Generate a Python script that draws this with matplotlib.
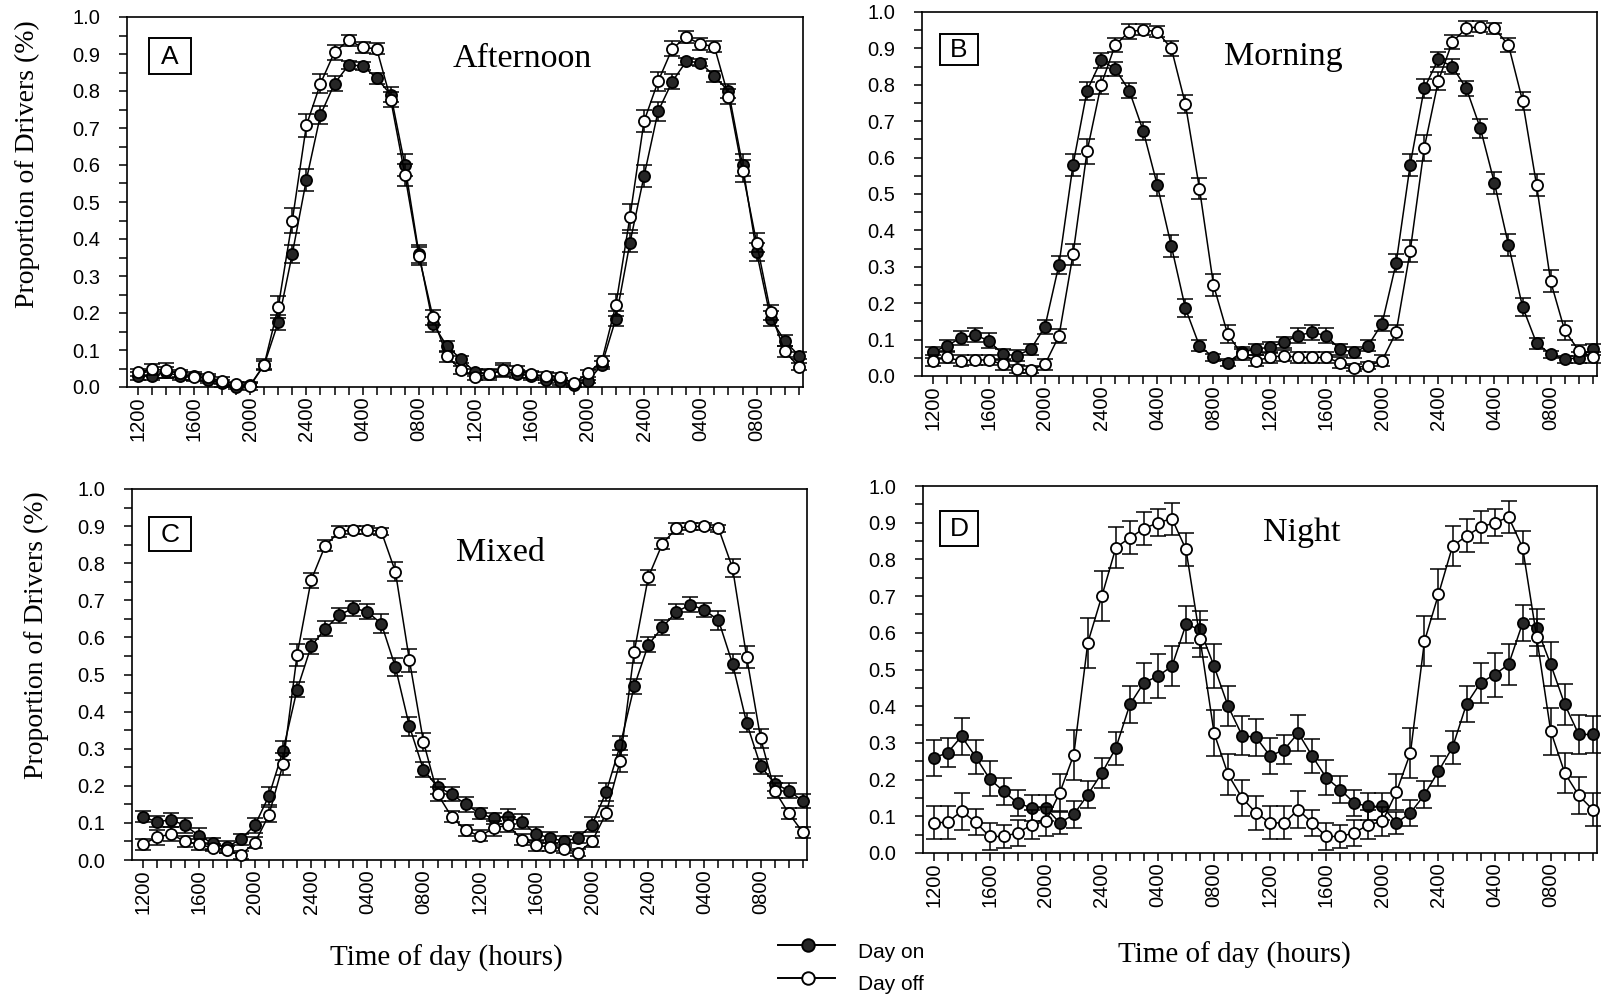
import numpy as np
import matplotlib
matplotlib.use("Agg")
import matplotlib.pyplot as plt
from matplotlib.lines import Line2D
from matplotlib.patches import Rectangle
from matplotlib.ticker import FixedLocator, MultipleLocator, FormatStrFormatter

# Hourly means, two consecutive days starting at 1200 (48 points)
hours = np.arange(48)
tick_hours = list(range(0, 48, 4))
tick_labels = ["1200", "1600", "2000", "2400", "0400", "0800"] * 2

# A - Afternoon shift
A_on = [0.030, 0.030, 0.040, 0.030, 0.030, 0.020, 0.010, 0.000, 0.005, 0.060, 0.175, 0.360,
        0.560, 0.735, 0.820, 0.870, 0.868, 0.835, 0.790, 0.600, 0.360, 0.170, 0.110, 0.075,
        0.040, 0.035, 0.045, 0.035, 0.030, 0.020, 0.015, 0.005, 0.015, 0.060, 0.185, 0.390,
        0.570, 0.745, 0.825, 0.880, 0.877, 0.840, 0.800, 0.600, 0.365, 0.185, 0.125, 0.085]
A_off = [0.040, 0.048, 0.045, 0.037, 0.026, 0.026, 0.017, 0.008, 0.003, 0.060, 0.216, 0.450,
         0.707, 0.820, 0.905, 0.937, 0.918, 0.914, 0.776, 0.574, 0.354, 0.188, 0.083, 0.046,
         0.028, 0.035, 0.046, 0.046, 0.034, 0.030, 0.028, 0.010, 0.037, 0.070, 0.222, 0.460,
         0.718, 0.826, 0.914, 0.946, 0.927, 0.920, 0.785, 0.583, 0.390, 0.202, 0.096, 0.055]
A_on_err = [0.010, 0.010, 0.015, 0.010, 0.010, 0.010, 0.010, 0.005, 0.005, 0.010, 0.020, 0.025,
            0.030, 0.025, 0.020, 0.010, 0.010, 0.015, 0.020, 0.030, 0.025, 0.020, 0.015, 0.010,
            0.010, 0.010, 0.015, 0.010, 0.010, 0.010, 0.010, 0.005, 0.005, 0.010, 0.020, 0.025,
            0.030, 0.025, 0.020, 0.010, 0.010, 0.015, 0.020, 0.030, 0.025, 0.020, 0.015, 0.010]
A_off_err = [0.010, 0.015, 0.020, 0.010, 0.010, 0.010, 0.010, 0.005, 0.010, 0.015, 0.030, 0.035,
             0.030, 0.025, 0.020, 0.015, 0.015, 0.015, 0.020, 0.030, 0.025, 0.020, 0.015, 0.010,
             0.010, 0.015, 0.020, 0.010, 0.010, 0.010, 0.010, 0.005, 0.010, 0.015, 0.030, 0.035,
             0.030, 0.025, 0.020, 0.015, 0.015, 0.015, 0.020, 0.030, 0.025, 0.020, 0.015, 0.010]

# B - Morning shift
B_on = [0.065, 0.083, 0.104, 0.113, 0.097, 0.060, 0.056, 0.074, 0.135, 0.306, 0.580, 0.784,
        0.867, 0.844, 0.784, 0.673, 0.524, 0.357, 0.186, 0.083, 0.051, 0.037, 0.065, 0.074,
        0.079, 0.093, 0.111, 0.120, 0.111, 0.074, 0.065, 0.083, 0.144, 0.310, 0.580, 0.790,
        0.870, 0.850, 0.790, 0.680, 0.530, 0.360, 0.190, 0.090, 0.060, 0.046, 0.050, 0.074]
B_off = [0.042, 0.051, 0.042, 0.044, 0.044, 0.032, 0.019, 0.017, 0.032, 0.110, 0.334, 0.617,
         0.800, 0.909, 0.946, 0.951, 0.946, 0.900, 0.747, 0.515, 0.250, 0.116, 0.060, 0.042,
         0.051, 0.056, 0.051, 0.051, 0.051, 0.037, 0.023, 0.028, 0.042, 0.120, 0.343, 0.626,
         0.810, 0.918, 0.955, 0.960, 0.955, 0.909, 0.756, 0.524, 0.260, 0.125, 0.070, 0.051]
B_on_err = [0.015, 0.015, 0.020, 0.020, 0.020, 0.015, 0.015, 0.015, 0.020, 0.025, 0.030, 0.025,
            0.020, 0.020, 0.020, 0.025, 0.030, 0.030, 0.025, 0.015, 0.010, 0.010, 0.015, 0.015,
            0.015, 0.015, 0.020, 0.020, 0.020, 0.015, 0.015, 0.015, 0.020, 0.025, 0.030, 0.025,
            0.020, 0.020, 0.020, 0.025, 0.030, 0.030, 0.025, 0.015, 0.010, 0.010, 0.015, 0.015]
B_off_err = [0.015, 0.015, 0.015, 0.015, 0.015, 0.015, 0.010, 0.010, 0.015, 0.020, 0.030, 0.035,
             0.025, 0.020, 0.020, 0.015, 0.015, 0.020, 0.025, 0.030, 0.030, 0.025, 0.015, 0.015,
             0.015, 0.015, 0.015, 0.015, 0.015, 0.015, 0.010, 0.010, 0.015, 0.020, 0.030, 0.035,
             0.025, 0.020, 0.020, 0.015, 0.015, 0.020, 0.025, 0.030, 0.030, 0.025, 0.015, 0.015]

# C - Mixed shift
C_on = [0.117, 0.103, 0.108, 0.094, 0.066, 0.045, 0.035, 0.056, 0.094, 0.173, 0.295, 0.459,
        0.576, 0.623, 0.660, 0.679, 0.669, 0.637, 0.520, 0.360, 0.243, 0.197, 0.178, 0.150,
        0.126, 0.112, 0.117, 0.103, 0.070, 0.060, 0.050, 0.060, 0.095, 0.183, 0.309, 0.468,
        0.580, 0.627, 0.669, 0.688, 0.674, 0.646, 0.529, 0.370, 0.253, 0.206, 0.187, 0.159]
C_off = [0.042, 0.061, 0.070, 0.051, 0.042, 0.033, 0.028, 0.014, 0.047, 0.122, 0.258, 0.552,
         0.754, 0.847, 0.885, 0.890, 0.890, 0.885, 0.777, 0.538, 0.318, 0.178, 0.117, 0.080,
         0.065, 0.085, 0.095, 0.055, 0.040, 0.035, 0.030, 0.020, 0.050, 0.126, 0.267, 0.561,
         0.762, 0.852, 0.894, 0.899, 0.899, 0.894, 0.787, 0.548, 0.328, 0.187, 0.126, 0.075]
C_on_err = [0.015, 0.015, 0.020, 0.020, 0.020, 0.015, 0.015, 0.015, 0.020, 0.025, 0.025, 0.020,
            0.020, 0.020, 0.020, 0.020, 0.020, 0.025, 0.025, 0.025, 0.020, 0.020, 0.020, 0.020,
            0.015, 0.015, 0.020, 0.020, 0.020, 0.015, 0.015, 0.015, 0.020, 0.025, 0.025, 0.020,
            0.020, 0.020, 0.020, 0.020, 0.020, 0.025, 0.025, 0.025, 0.020, 0.020, 0.020, 0.020]
C_off_err = [0.015, 0.020, 0.020, 0.015, 0.015, 0.010, 0.010, 0.010, 0.015, 0.020, 0.030, 0.030,
             0.020, 0.015, 0.015, 0.010, 0.010, 0.010, 0.025, 0.030, 0.025, 0.020, 0.015, 0.015,
             0.015, 0.020, 0.020, 0.015, 0.015, 0.010, 0.010, 0.010, 0.015, 0.020, 0.030, 0.030,
             0.020, 0.015, 0.015, 0.010, 0.010, 0.010, 0.025, 0.030, 0.025, 0.020, 0.015, 0.015]

# D - Night shift
D_on = [0.259, 0.273, 0.318, 0.262, 0.202, 0.168, 0.136, 0.123, 0.123, 0.082, 0.105, 0.159,
        0.218, 0.286, 0.405, 0.464, 0.482, 0.509, 0.623, 0.609, 0.509, 0.400, 0.320, 0.315,
        0.264, 0.282, 0.327, 0.264, 0.205, 0.173, 0.136, 0.127, 0.127, 0.082, 0.109, 0.159,
        0.223, 0.288, 0.406, 0.464, 0.486, 0.514, 0.627, 0.614, 0.514, 0.405, 0.323, 0.323]
D_off = [0.082, 0.084, 0.114, 0.084, 0.045, 0.045, 0.055, 0.077, 0.086, 0.164, 0.268, 0.573,
         0.700, 0.832, 0.859, 0.884, 0.900, 0.911, 0.827, 0.584, 0.327, 0.214, 0.150, 0.109,
         0.082, 0.082, 0.118, 0.082, 0.045, 0.045, 0.055, 0.077, 0.086, 0.166, 0.273, 0.577,
         0.705, 0.836, 0.864, 0.888, 0.900, 0.915, 0.832, 0.588, 0.332, 0.218, 0.157, 0.118]
D_on_err = [0.050, 0.040, 0.050, 0.047, 0.048, 0.036, 0.036, 0.036, 0.036, 0.030, 0.036, 0.036,
            0.040, 0.045, 0.050, 0.055, 0.060, 0.055, 0.050, 0.050, 0.060, 0.055, 0.053, 0.050,
            0.050, 0.040, 0.050, 0.047, 0.048, 0.036, 0.036, 0.036, 0.036, 0.030, 0.036, 0.036,
            0.040, 0.045, 0.050, 0.055, 0.060, 0.055, 0.050, 0.050, 0.060, 0.055, 0.053, 0.050]
D_off_err = [0.045, 0.045, 0.050, 0.035, 0.036, 0.032, 0.036, 0.040, 0.040, 0.050, 0.068, 0.068,
             0.068, 0.055, 0.045, 0.044, 0.036, 0.044, 0.045, 0.050, 0.064, 0.055, 0.050, 0.045,
             0.045, 0.045, 0.050, 0.035, 0.036, 0.032, 0.036, 0.040, 0.040, 0.050, 0.068, 0.068,
             0.068, 0.055, 0.045, 0.044, 0.036, 0.044, 0.045, 0.050, 0.064, 0.055, 0.050, 0.045]

legend_labels = ["Day on", "Day off"]

SANS = ["Liberation Sans", "DejaVu Sans"]
SERIF = ["Liberation Serif", "DejaVu Serif"]
ON_FACE, OFF_FACE = "#262626", "white"

W, H = 1606, 1001
fig = plt.figure(figsize=(W / 100, H / 100), dpi=100)
fig.patch.set_facecolor("white")


def px_rect(left, top, right, bottom):
    return [left / W, 1 - bottom / H, (right - left) / W, (bottom - top) / H]


def fig_xy(x, y):
    return x / W, 1 - y / H


def letter_box(letter, cx, cy, w, h):
    fig.add_artist(Rectangle(((cx - w / 2) / W, 1 - (cy + h / 2) / H), w / W, h / H,
                             transform=fig.transFigure, fc="white", ec="black", lw=1.4,
                             zorder=10))
    fig.text(*fig_xy(cx, cy + 1), letter, ha="center", va="center", fontsize=19,
             family=SANS, zorder=11)


def draw_panel(box, on, on_err, off, off_err, letter, letter_at, title, title_at):
    ax = fig.add_axes(px_rect(*box))
    series = [(on, on_err, ON_FACE, 3), (off, off_err, OFF_FACE, 5)]
    for vals, err, face, z in series:
        ax.errorbar(hours, vals, yerr=err, fmt="none", ecolor="black",
                    elinewidth=1.1, capsize=5.5, capthick=1.1, zorder=z, clip_on=False)
        ax.plot(hours, vals, "-", color="black", lw=1.1, marker="o", ms=8,
                mfc=face, mec="black", mew=1.3, zorder=z + 0.5, clip_on=False)
    ax.set_xlim(-0.75, 47.3)
    ax.set_ylim(0, 1.0)
    ax.xaxis.set_major_locator(FixedLocator(tick_hours))
    ax.xaxis.set_minor_locator(MultipleLocator(1))
    ax.set_xticklabels(tick_labels, rotation=90, fontfamily=SANS, fontsize=14.5)
    ax.yaxis.set_major_locator(MultipleLocator(0.1))
    ax.yaxis.set_minor_locator(MultipleLocator(0.05))
    ax.yaxis.set_major_formatter(FormatStrFormatter("%.1f"))
    for lab in ax.get_yticklabels():
        lab.set_fontfamily(SANS)
        lab.set_fontsize(14.5)
    ax.tick_params(which="both", direction="out", length=5.5, width=1.1, color="black")
    ax.tick_params(axis="x", which="major", pad=1)
    ax.tick_params(axis="y", which="major", pad=14)
    for sp in ax.spines.values():
        sp.set_linewidth(1.2)
    letter_box(letter, *letter_at)
    fig.text(*fig_xy(*title_at), title, ha="center", va="center", fontsize=24.5, family=SERIF)
    return ax


draw_panel((127, 17, 803, 387), A_on, A_on_err, A_off, A_off_err,
           "A", (170, 56, 42, 36), "Afternoon", (522, 59))
draw_panel((922, 12, 1597, 376), B_on, B_on_err, B_off, B_off_err,
           "B", (959, 49, 38, 31), "Morning", (1283, 57))
draw_panel((132, 489, 807, 860), C_on, C_on_err, C_off, C_off_err,
           "C", (170, 534, 42, 34), "Mixed", (500, 553))
draw_panel((923, 486, 1597, 853), D_on, D_on_err, D_off, D_off_err,
           "D", (959, 528, 38, 35), "Night", (1302, 533))

# Axis titles
for x, y in [(27, 164), (36, 635)]:
    fig.text(*fig_xy(x, y), "Proportion of Drivers (%)", rotation=90, ha="center",
             va="center", fontsize=20, family=SERIF)
for x, y in [(446, 958), (1234, 955)]:
    fig.text(*fig_xy(x, y), "Time of day (hours)", ha="center", va="center",
             fontsize=21, family=SERIF)

# Legend key: short line with a centred marker, label set slightly below it
for label, face, line_y in zip(legend_labels, [ON_FACE, OFF_FACE], [945, 978]):
    x0, x1 = fig_xy(778, line_y)[0], fig_xy(835, line_y)[0]
    y = fig_xy(0, line_y)[1]
    fig.add_artist(Line2D([x0, x1], [y, y], transform=fig.transFigure,
                          color="black", lw=1.4))
    fig.add_artist(Line2D([(x0 + x1) / 2 + 2 / W], [y], transform=fig.transFigure,
                          marker="o", ms=9, mfc=face, mec="black", mew=1.4, lw=0))
    fig.text(*fig_xy(858, line_y + 7), label, ha="left", va="center",
             fontsize=15, family=SANS)

fig.savefig("out.png", dpi=100, facecolor="white")
